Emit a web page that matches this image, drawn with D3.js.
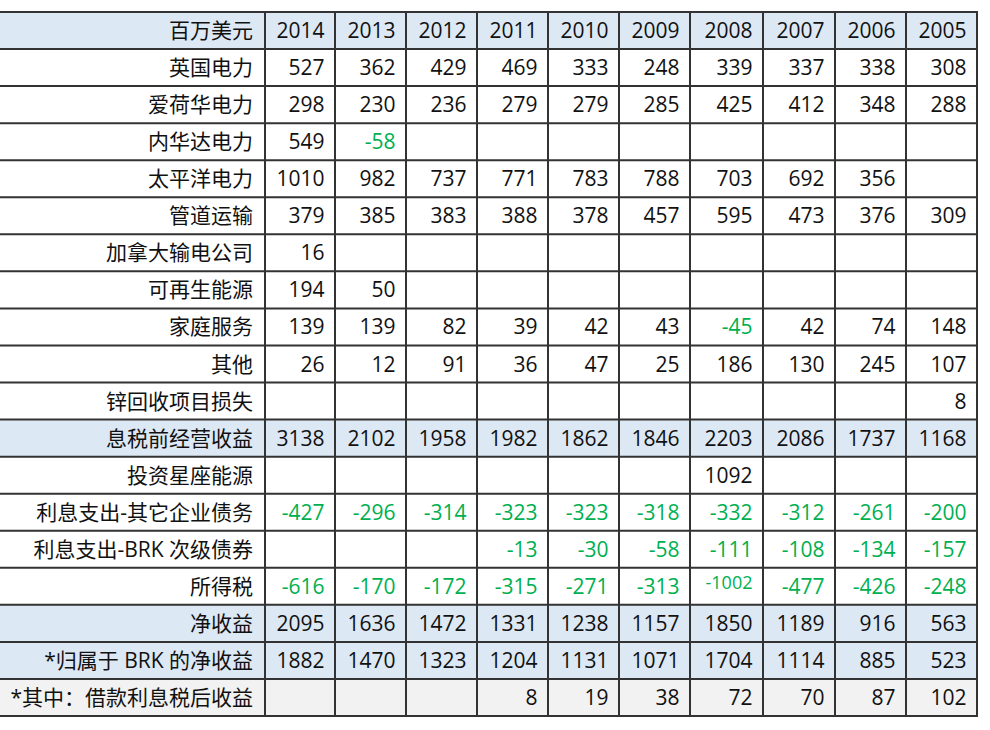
<!DOCTYPE html>
<html>
<head>
<meta charset="utf-8">
<script src="https://cdn.jsdelivr.net/npm/d3@7/dist/d3.min.js"></script>
<style>
  html, body { margin: 0; padding: 0; background: #fff; }
  svg { display: block; }
  text { font-family: "Open Sans", "Noto Sans CJK SC", sans-serif; font-size: 21px; }
</style>
</head>
<body>
<svg id="chart" width="990" height="730"></svg>
<script>
// ---------- data ----------
const headerLabel = "百万美元";
const years = ["2014","2013","2012","2011","2010","2009","2008","2007","2006","2005"];
const rowLabels = [
  "英国电力","爱荷华电力","内华达电力","太平洋电力","管道运输","加拿大输电公司",
  "可再生能源","家庭服务","其他","锌回收项目损失","息税前经营收益","投资星座能源",
  "利息支出-其它企业债务","利息支出-BRK 次级债券","所得税","净收益",
  "*归属于 BRK 的净收益","*其中：借款利息税后收益"
];
const ukPower        = [527, 362, 429, 469, 333, 248, 339, 337, 338, 308];
const iowaPower      = [298, 230, 236, 279, 279, 285, 425, 412, 348, 288];
const nevadaPower    = [549, -58, null, null, null, null, null, null, null, null];
const pacificPower   = [1010, 982, 737, 771, 783, 788, 703, 692, 356, null];
const pipeline       = [379, 385, 383, 388, 378, 457, 595, 473, 376, 309];
const canadaTrans    = [16, null, null, null, null, null, null, null, null, null];
const renewables     = [194, 50, null, null, null, null, null, null, null, null];
const homeServices   = [139, 139, 82, 39, 42, 43, -45, 42, 74, 148];
const other          = [26, 12, 91, 36, 47, 25, 186, 130, 245, 107];
const zincLoss       = [null, null, null, null, null, null, null, null, null, 8];
const ebit           = [3138, 2102, 1958, 1982, 1862, 1846, 2203, 2086, 1737, 1168];
const constellation  = [null, null, null, null, null, null, 1092, null, null, null];
const interestOther  = [-427, -296, -314, -323, -323, -318, -332, -312, -261, -200];
const interestBRK    = [null, null, null, -13, -30, -58, -111, -108, -134, -157];
const incomeTax      = [-616, -170, -172, -315, -271, -313, -1002, -477, -426, -248];
const netIncome      = [2095, 1636, 1472, 1331, 1238, 1157, 1850, 1189, 916, 563];
const netToBRK       = [1882, 1470, 1323, 1204, 1131, 1071, 1704, 1114, 885, 523];
const interestAfterTax = [null, null, null, 8, 19, 38, 72, 70, 87, 102];
const rowValues = [ukPower, iowaPower, nevadaPower, pacificPower, pipeline, canadaTrans,
  renewables, homeServices, other, zincLoss, ebit, constellation, interestOther,
  interestBRK, incomeTax, netIncome, netToBRK, interestAfterTax];

// ---------- layout / style ----------
const svg = d3.select("#chart");
const colEdges = [265, 335, 406, 477, 548, 619, 690, 763, 835, 906, 977];
const tableLeft = -2, tableRight = colEdges[colEdges.length - 1];
const x = d3.scaleLinear().domain(d3.range(colEdges.length)).range(colEdges);
const y = d3.scaleBand().domain(d3.range(rowLabels.length + 1)).range([12, 716]);
const blue = "#dde8f5", gray = "#f2f2f2", green = "#00b050", lineColor = "#333";
const blueRows = new Set(["息税前经营收益", "净收益", "*归属于 BRK 的净收益"]);
const grayRows = new Set(["*其中：借款利息税后收益"]);
const smallCells = new Set(["所得税|2008"]);

const allRows = [{label: headerLabel, values: years, header: true}]
  .concat(rowLabels.map((l, i) => ({label: l, values: rowValues[i], header: false})));

// row fills
svg.append("g").selectAll("rect").data(allRows).join("rect")
  .attr("x", tableLeft).attr("width", tableRight - tableLeft)
  .attr("y", (d, i) => y(i)).attr("height", y.step())
  .attr("fill", d => d.header || blueRows.has(d.label) ? blue : grayRows.has(d.label) ? gray : "#fff");

// text
const rowsG = svg.append("g").selectAll("g").data(allRows).join("g")
  .attr("transform", (d, i) => `translate(0,${y(i) + y.step() / 2 + 7.5})`);

rowsG.append("text")
  .attr("x", colEdges[0] - 12).attr("text-anchor", "end").attr("fill", "#111")
  .text(d => d.label);

rowsG.selectAll("text.v")
  .data(d => d.values.map((v, j) => ({v, j, row: d.label, header: d.header})))
  .join("text").attr("class", "v")
  .filter(c => c.v !== null)
  .attr("x", c => x(c.j + 1) - 10.5)
  .attr("text-anchor", "end")
  .attr("fill", c => !c.header && c.v < 0 ? green : "#111")
  .each(function (c) {
    if (smallCells.has(c.row + "|" + years[c.j])) {
      d3.select(this).style("font-size", "18px").attr("dy", -4.5);
    }
  })
  .text(c => c.v);

// grid lines
const grid = svg.append("g").attr("stroke", lineColor).attr("stroke-width", 2);
grid.selectAll("line.h").data(d3.range(allRows.length + 1)).join("line").attr("class", "h")
  .attr("x1", tableLeft).attr("x2", tableRight + 1)
  .attr("y1", i => i < allRows.length ? y(i) : y(allRows.length - 1) + y.step())
  .attr("y2", i => i < allRows.length ? y(i) : y(allRows.length - 1) + y.step());
grid.selectAll("line.v").data(d3.range(colEdges.length)).join("line").attr("class", "v")
  .attr("x1", i => x(i)).attr("x2", i => x(i))
  .attr("y1", y(0) - 1).attr("y2", y(allRows.length - 1) + y.step() + 1);
</script>
</body>
</html>
